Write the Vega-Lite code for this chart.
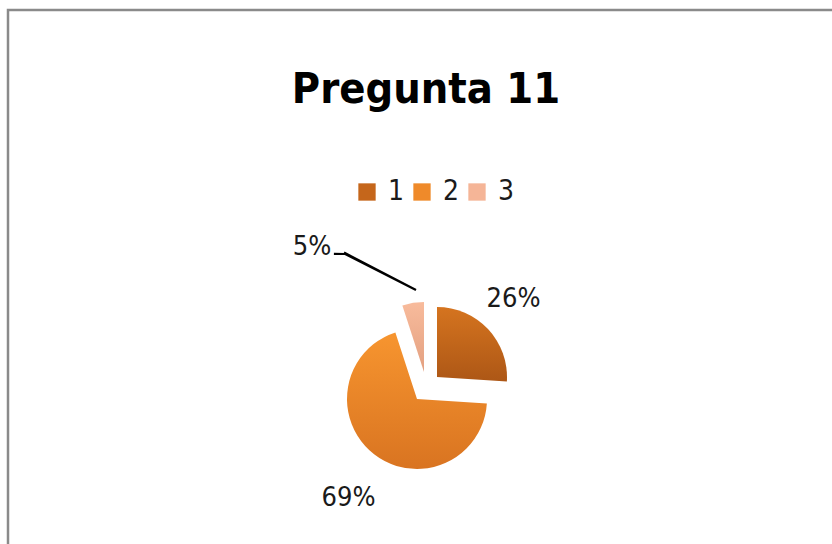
{
  "$schema": "https://vega.github.io/schema/vega-lite/v6.json",
  "width": 826,
  "height": 536,
  "autosize": {"type": "none"},
  "padding": {"left": 8, "top": 10, "right": -2, "bottom": -2},
  "background": "white",
  "view": {"stroke": "#8a8a8a", "strokeWidth": 2.5},
  "config": {"view": {"stroke": "#8a8a8a", "strokeWidth": 2.5}, "font": "Liberation Sans Narrow, DejaVu Sans Condensed, Roboto, sans-serif"},
  "title": {"text": "Pregunta 11", "font": "Liberation Sans Narrow, DejaVu Sans Condensed, Roboto, sans-serif", "fontSize": 43, "fontWeight": "bold", "color": "#000000", "anchor": "middle", "dx": 5, "dy": 43, "offset": -93, "baseline": "alphabetic"},
  "data": {"values": [
    {"cat": "1", "value": 26, "label": "26%"},
    {"cat": "2", "value": 69, "label": "69%"},
    {"cat": "3", "value": 5, "label": "5%"}
  ]},
  "transform": [{"stack": "value", "groupby": [], "sort": [{"field": "cat", "order": "ascending"}], "as": ["v0", "v1"]}],
  "layer": [
    {
      "mark": {"type": "arc", "radius": 0.01},
      "encoding": {
        "theta": {"field": "v0", "type": "quantitative", "scale": {"domain": [0, 100]}},
        "theta2": {"field": "v1"},
        "color": {"field": "cat", "type": "nominal", "scale": {"domain": ["1", "2", "3"], "range": ["#c5661b", "#ef8a2a", "#f5b597"]},
          "legend": {"orient": "none", "legendX": 345, "legendY": 168, "direction": "horizontal", "title": null, "symbolType": "square", "symbolSize": 300, "symbolStrokeWidth": 0, "labelFontSize": 28, "labelFont": "Liberation Sans Narrow, DejaVu Sans Condensed, Roboto, sans-serif", "labelColor": "#1a1a1a", "columnPadding": 3, "labelOffset": 7}}
      }
    },
    {
      "transform": [{"filter": "datum.cat == '1'"}],
      "mark": {"type": "arc", "radius": 70, "xOffset": 16, "yOffset": 99,
        "fill": {"gradient": "linear", "x1": 0, "y1": 0, "x2": 0, "y2": 1, "stops": [{"offset": 0, "color": "#d5741f"}, {"offset": 1, "color": "#ad5716"}]}},
      "encoding": {"theta": {"field": "v0", "type": "quantitative", "scale": {"domain": [0, 100]}}, "theta2": {"field": "v1"}}
    },
    {
      "transform": [{"filter": "datum.cat == '2'"}],
      "mark": {"type": "arc", "radius": 70, "xOffset": -4, "yOffset": 121,
        "fill": {"gradient": "linear", "x1": 0, "y1": 0, "x2": 0, "y2": 1, "stops": [{"offset": 0, "color": "#f7952f"}, {"offset": 1, "color": "#d97421"}]}},
      "encoding": {"theta": {"field": "v0", "type": "quantitative", "scale": {"domain": [0, 100]}}, "theta2": {"field": "v1"}}
    },
    {
      "transform": [{"filter": "datum.cat == '3'"}],
      "mark": {"type": "arc", "radius": 70, "xOffset": 3, "yOffset": 94,
        "fill": {"gradient": "linear", "x1": 0, "y1": 0, "x2": 0, "y2": 1, "stops": [{"offset": 0, "color": "#f8bb9c"}, {"offset": 1, "color": "#e3a080"}]}},
      "encoding": {"theta": {"field": "v0", "type": "quantitative", "scale": {"domain": [0, 100]}}, "theta2": {"field": "v1"}}
    },
    {
      "transform": [{"filter": "datum.cat == '3'"}],
      "mark": {"type": "arc", "radius": 80, "radius2": 0, "thetaOffset": -0.787, "theta2Offset": -0.777, "xOffset": -5, "yOffset": 12, "fill": "#000000", "stroke": "#000000", "strokeWidth": 2.2},
      "encoding": {"theta": {"field": "v0", "type": "quantitative", "scale": {"domain": [0, 100]}}, "theta2": {"field": "v0"}}
    },
    {
      "transform": [{"filter": "datum.cat == '3'"}],
      "mark": {"type": "arc", "radius": 10, "radius2": 0, "thetaOffset": -1.2566, "theta2Offset": -1.2466, "xOffset": -76, "yOffset": -24, "fill": "#000000", "stroke": "#000000", "strokeWidth": 2.2},
      "encoding": {"theta": {"field": "v0", "type": "quantitative", "scale": {"domain": [0, 100]}}, "theta2": {"field": "v0"}}
    },
    {
      "mark": {"type": "text", "radius": 120, "xOffset": 5, "yOffset": 103, "fontSize": 27, "font": "Liberation Sans Narrow, DejaVu Sans Condensed, Roboto, sans-serif", "color": "#1a1a1a"},
      "encoding": {
        "theta": {"field": "value", "type": "quantitative", "stack": true, "scale": {"domain": [0, 100]}},
        "order": {"field": "cat"},
        "detail": {"field": "cat"},
        "text": {"condition": {"test": "datum.cat == '1'", "field": "label"}, "value": ""}
      }
    },
    {
      "mark": {"type": "text", "radius": 133, "xOffset": 9, "yOffset": 115, "fontSize": 27, "font": "Liberation Sans Narrow, DejaVu Sans Condensed, Roboto, sans-serif", "color": "#1a1a1a"},
      "encoding": {
        "theta": {"field": "value", "type": "quantitative", "stack": true, "scale": {"domain": [0, 100]}},
        "order": {"field": "cat"},
        "detail": {"field": "cat"},
        "text": {"condition": {"test": "datum.cat == '2'", "field": "label"}, "value": ""}
      }
    },
    {
      "mark": {"type": "text", "radius": 140, "xOffset": -87, "yOffset": 107, "fontSize": 27, "font": "Liberation Sans Narrow, DejaVu Sans Condensed, Roboto, sans-serif", "color": "#1a1a1a"},
      "encoding": {
        "theta": {"field": "value", "type": "quantitative", "stack": true, "scale": {"domain": [0, 100]}},
        "order": {"field": "cat"},
        "detail": {"field": "cat"},
        "text": {"condition": {"test": "datum.cat == '3'", "field": "label"}, "value": ""}
      }
    }
  ]
}
